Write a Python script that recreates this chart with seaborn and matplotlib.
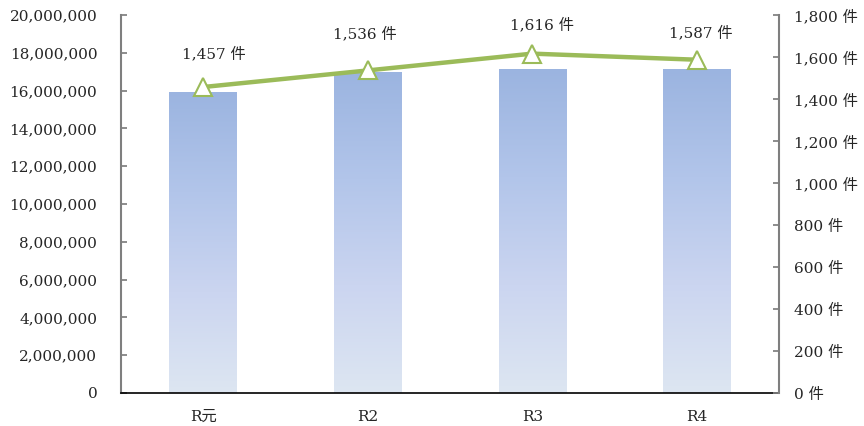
import numpy as np
import pandas as pd
import matplotlib
matplotlib.use('Agg')
import matplotlib.pyplot as plt
from matplotlib.colors import LinearSegmentedColormap
from matplotlib.ticker import FuncFormatter, MultipleLocator
import seaborn as sns

# data
years = ['R元', 'R2', 'R3', 'R4']
amounts = [15940000, 17000000, 17140000, 17140000]   # left axis (bars)
cases = [1457, 1536, 1616, 1587]                      # right axis (line, 件)

sns.set_theme(style='white')
plt.rcParams['font.family'] = ['DejaVu Serif', 'Noto Sans CJK JP']
plt.rcParams['axes.unicode_minus'] = False

fig = plt.figure(figsize=(8.64, 4.26), dpi=100)
ax = fig.add_axes([0.140, 0.0775, 0.7616, 0.8873])

df = pd.DataFrame({'year': years, 'amount': amounts, 'cases': cases})
sns.barplot(data=df, x='year', y='amount', ax=ax, width=0.41,
            color='#9bb4e0', saturation=1, linewidth=0)

# vertical gradient in every bar
grad = LinearSegmentedColormap.from_list(
    'bar', ['#dde6f2', '#cbd5f0', '#b2c5ea', '#9bb4e0'])
ramp = np.linspace(0, 1, 256).reshape(-1, 1)
for p in ax.patches:
    x0, y0 = p.get_x(), p.get_y()
    w, h = p.get_width(), p.get_height()
    p.set_facecolor('none')
    im = ax.imshow(ramp, cmap=grad, aspect='auto', origin='lower',
                   extent=[x0, x0 + w, y0, y0 + h], zorder=p.get_zorder())
    im.set_clip_path(p)

ax.set_xlim(-0.5, len(years) - 0.5)
ax.set_ylim(0, 20000000)
ax.yaxis.set_major_locator(MultipleLocator(2000000))
ax.yaxis.set_major_formatter(FuncFormatter(lambda v, _: f'{int(v):,}'))
ax.set_xticks(np.arange(len(years) - 1) + 0.5)
ax.set_xticklabels([])
ax.set_xticks(range(len(years)), years, minor=True)
ax.tick_params(axis='x', which='minor', length=0, pad=12, labelsize=11,
               colors='#262626')
ax.tick_params(axis='x', which='major', direction='in', length=4,
               color='#7f7f7f')
ax.tick_params(axis='y', direction='in', length=4, color='#7f7f7f',
               labelsize=11, labelcolor='#262626', pad=17)
ax.set_xlabel('')
ax.set_ylabel('')
for s in ['top', 'right']:
    ax.spines[s].set_visible(False)
ax.spines['left'].set_color('#7f7f7f')
ax.spines['left'].set_linewidth(1.5)
ax.spines['bottom'].set_color('black')
ax.spines['bottom'].set_linewidth(1.2)

# line on the right axis
ax2 = ax.twinx()
pos = np.arange(len(years))
sns.lineplot(x=pos, y=cases, ax=ax2, color='#9bbb59', linewidth=3.2,
             marker='^', markersize=13, markerfacecolor='white',
             markeredgecolor='#9bbb59', markeredgewidth=1.5, zorder=5)
ax2.set_ylim(0, 1800)
ax2.yaxis.set_major_locator(MultipleLocator(200))
ax2.yaxis.set_major_formatter(FuncFormatter(lambda v, _: f'{int(v):,} 件'))
ax2.tick_params(axis='y', direction='in', length=4, color='#7f7f7f',
                labelsize=11, labelcolor='#262626', pad=11)
for s in ['top', 'left', 'bottom']:
    ax2.spines[s].set_visible(False)
ax2.spines['right'].set_color('#7f7f7f')
ax2.spines['right'].set_linewidth(1.5)
ax2.set_xlim(-0.5, len(years) - 0.5)

# label offsets (points) as placed in the reference
label_dx = [8, -2, 7, 3]
label_dy = [24, 26, 21, 19]
for x, c, dx, dy in zip(pos, cases, label_dx, label_dy):
    ax2.annotate(f'{c:,} 件', (x, c), xytext=(dx, dy),
                 textcoords='offset points', ha='center', va='center',
                 fontsize=11, color='#262626')

fig.savefig('out.png', dpi=100)
